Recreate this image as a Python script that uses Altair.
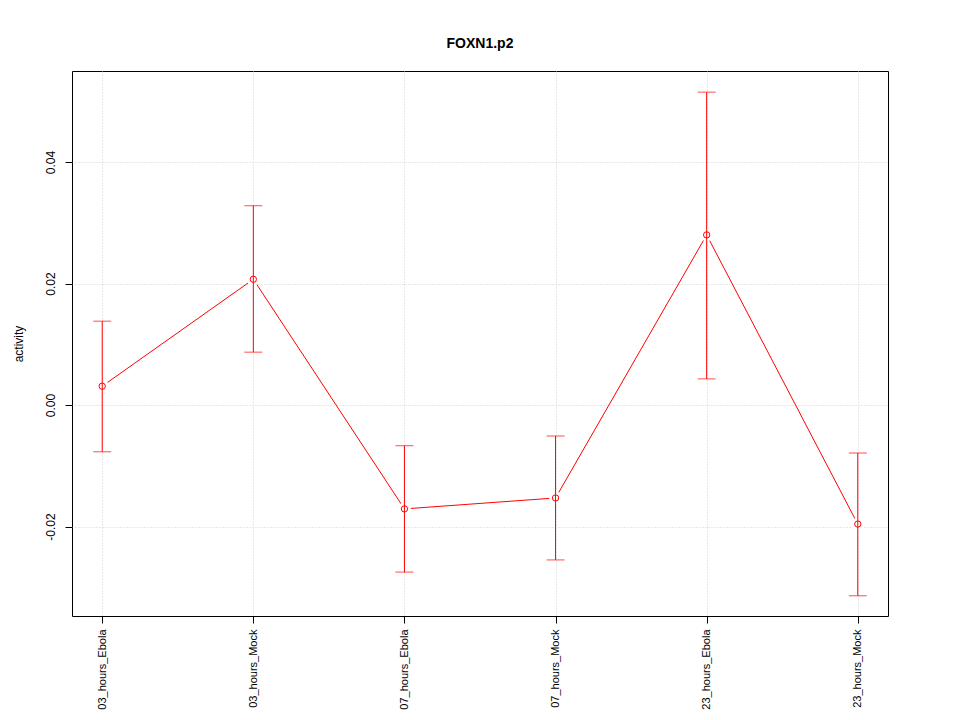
import altair as alt
import pandas as pd

categories = ["03_hours_Ebola", "03_hours_Mock", "07_hours_Ebola",
              "07_hours_Mock", "23_hours_Ebola", "23_hours_Mock"]
activity = [0.0031, 0.0207, -0.0171, -0.0153, 0.0280, -0.0196]
upper = [0.0138, 0.0328, -0.0067, -0.0051, 0.0515, -0.0079]
lower = [-0.0077, 0.0087, -0.0275, -0.0255, 0.0043, -0.0314]

df = pd.DataFrame({"idx": list(range(len(categories))), "cond": categories,
                   "activity": activity, "upper": upper, "lower": lower})

FONT = "Liberation Sans"
label_expr = "[" + ",".join("'%s'" % c for c in categories) + "][datum.value]"
xscale = alt.Scale(domain=[-0.2, len(categories) - 0.8], nice=False, zero=False)
xenc = alt.X("idx:Q", scale=xscale,
             axis=alt.Axis(title=None, values=list(range(len(categories))),
                           labelExpr=label_expr,
                           labelAngle=270, labelAlign="right",
                           labelBaseline="middle", labelPadding=6,
                           tickSize=7, tickColor="#000000", labelColor="#000000",
                           labelFontSize=11, labelFont=FONT, domain=False,
                           grid=True, gridColor="#d0d0d0", gridDash=[1, 2],
                           labelLimit=200))
yscale = alt.Scale(domain=[-0.03473, 0.05498], nice=False, zero=False)
yenc = alt.Y("activity:Q", scale=yscale,
             axis=alt.Axis(title="activity", values=[-0.02, 0.0, 0.02, 0.04],
                           labelExpr="replace(format(datum.value, '.2f'), '\u2212', '-')",
                           labelAngle=270, labelAlign="center",
                           labelBaseline="bottom", labelPadding=8,
                           tickSize=7, tickColor="#000000", labelColor="#000000",
                           labelFontSize=12, labelFont=FONT, titleFont=FONT,
                           titleFontSize=12, titleFontWeight="normal",
                           titlePadding=19, domain=False,
                           grid=True, gridColor="#d0d0d0", gridDash=[1, 2]))

base = alt.Chart(df)
line = base.mark_line(color="#ff0000", strokeWidth=1).encode(x=xenc, y=yenc)
gaps = base.mark_point(filled=True, color="white", opacity=1, size=170,
                       shape="circle").encode(x=xenc, y=yenc)
bars = base.mark_rule(color="#ff0000", strokeWidth=1).encode(
    x=xenc, y=alt.Y("lower:Q", scale=yscale), y2="upper:Q")
cap_hi = base.mark_tick(color="#ff0000", size=18, thickness=1,
                        orient="horizontal").encode(
    x=xenc, y=alt.Y("upper:Q", scale=yscale))
cap_lo = base.mark_tick(color="#ff0000", size=18, thickness=1,
                        orient="horizontal").encode(
    x=xenc, y=alt.Y("lower:Q", scale=yscale))
pts = base.mark_point(color="#ff0000", filled=False, size=40, strokeWidth=1,
                      opacity=1, shape="circle").encode(x=xenc, y=yenc)

chart = alt.layer(line, gaps, bars, cap_hi, cap_lo, pts).properties(
    width=816, height=545,
    title=alt.TitleParams("FOXN1.p2", font=FONT, fontSize=14, fontWeight="bold",
                          anchor="middle", offset=20, color="#000000"),
    autosize=alt.AutoSizeParams(type="none"),
    padding={"left": 64, "top": 63, "right": 64, "bottom": 96},
).configure(background="white").configure_view(stroke="#000000", strokeWidth=1)

chart.save("out.html", embed_options={"renderer": "svg", "actions": False})
